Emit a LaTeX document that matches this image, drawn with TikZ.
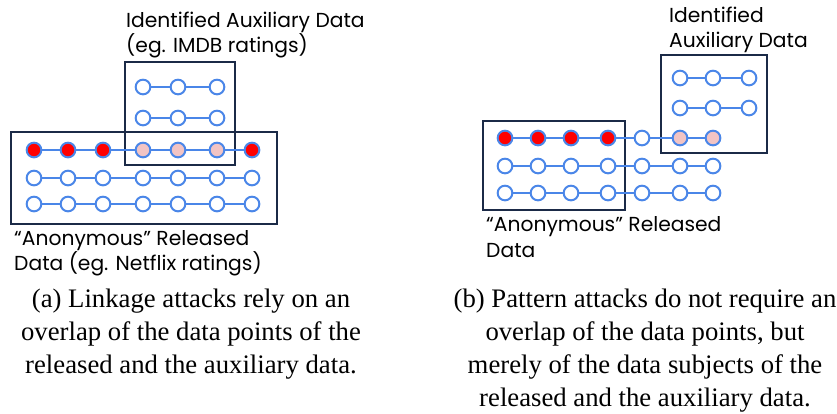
\documentclass[tikz,border=0pt]{standalone}
\usepackage{fontspec}
\setmainfont{Liberation Serif}
\newfontfamily\labelfont{Poppins}
\definecolor{dotblue}{HTML}{4A86E8}
\definecolor{dotpink}{HTML}{F2C4C4}
\definecolor{setnavy}{HTML}{1B2A47}

\begin{document}
\begin{tikzpicture}[
      x=0.03cm, y=-0.03cm,
      dot/.style={draw=dotblue, line width=1.7pt, circle, minimum size=0.44cm, inner sep=0pt},
      free/.style={dot, fill=white},
      hit/.style={dot, fill=red},
      match/.style={dot, fill=dotpink},
      link/.style={dotblue, line width=1.4pt},
      dataset/.style={draw=setnavy, line width=1.5pt},
      lbl/.style={font=\labelfont\fontsize{17.3}{21.5}\selectfont, align=left, anchor=west, inner sep=0pt},
      caption/.style={font=\fontsize{22.8}{28.2}\selectfont, align=center, inner sep=0pt}
    ]
    \useasboundingbox (0,0) rectangle (837,413);

    % (a) Linkage
    \draw[dataset] (125,62) rectangle (235,165);
    \draw[dataset] (11,132) rectangle (277,224);
    \foreach \x/\s [count=\i] in {34/hit,68/hit,103/hit,143/match,178/match,217/match,252/hit} {
      \node[\s] (la\i) at (\x,150) {};
      \node[free] (lb\i) at (\x,178) {};
      \node[free] (lc\i) at (\x,204) {};
    }
    \foreach \x [count=\i] in {143,178,217} {
      \node[free] (lx\i) at (\x,87) {};
      \node[free] (ly\i) at (\x,118) {};
    }
    \foreach \r in {la,lb,lc} {
      \foreach \i in {1,...,6} {
        \pgfmathtruncatemacro\j{\i+1}
        \draw[link] (\r\i) -- (\r\j);
      }
    }
    \foreach \r in {lx,ly} {
      \draw[link] (\r1) -- (\r2);
      \draw[link] (\r2) -- (\r3);
    }
    \node[lbl] (auxa) at (126,35) {Identified Auxiliary Data\\(eg. IMDB ratings)};
    \node[lbl] (rela) at (14,253) {“Anonymous” Released\\Data (eg. Netflix ratings)};
    \node[caption] (capa) at (191,334) {(a) Linkage attacks rely on an\\overlap of the data points of the\\released and the auxiliary data.};

    % (b) Pattern
    \draw[dataset] (661,55) rectangle (767,153);
    \draw[dataset] (483,121) rectangle (625,210);
    \foreach \x/\s [count=\i] in {505/hit,538/hit,571/hit,608/hit,642/free,680/match,713/match} {
      \node[\s] (ra\i) at (\x,138) {};
      \node[free] (rb\i) at (\x,166) {};
      \node[free] (rc\i) at (\x,193) {};
    }
    \foreach \x [count=\i] in {680,713,749} {
      \node[free] (rx\i) at (\x,78) {};
      \node[free] (ry\i) at (\x,108) {};
    }
    \foreach \r in {ra,rb,rc} {
      \foreach \i in {1,...,6} {
        \pgfmathtruncatemacro\j{\i+1}
        \draw[link] (\r\i) -- (\r\j);
      }
    }
    \foreach \r in {rx,ry} {
      \draw[link] (\r1) -- (\r2);
      \draw[link] (\r2) -- (\r3);
    }
    \node[lbl] (auxb) at (669,30) {Identified\\Auxiliary Data};
    \node[lbl] (relb) at (486,237) {“Anonymous” Released\\Data};
    \node[caption] (capb) at (645,351) {(b) Pattern attacks do not require an\\overlap of the data points, but\\merely of the data subjects of the\\released and the auxiliary data.};
  \end{tikzpicture}
\end{document}
